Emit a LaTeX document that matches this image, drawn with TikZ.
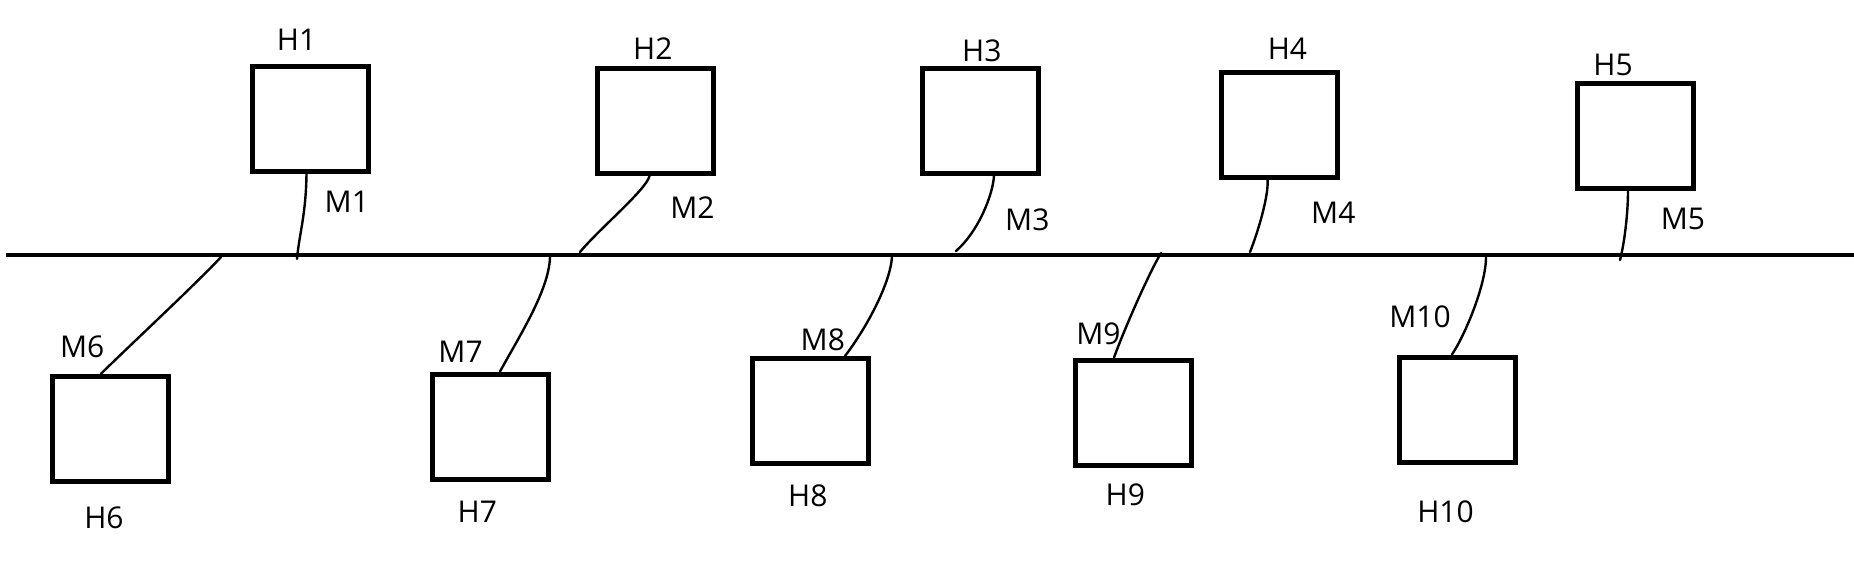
\documentclass[tikz,border=0pt]{standalone}
\usepackage{fontspec}
\setmainfont{Open Sans}
\begin{document}
\begin{tikzpicture}[x=1pt,y=-1pt,
  hostbox/.style={draw,line width=5pt,minimum width=116pt,minimum height=105pt,inner sep=0pt},
  tag/.style={inner sep=0pt,font=\fontsize{30}{36}\selectfont},
  link/.style={line width=2.4pt,line cap=round},
  busline/.style={line width=4.6pt}]
\useasboundingbox (0,0) rectangle (1854,576);
% bus
\coordinate (busL) at (6,255);
\coordinate (busR) at (1854,255);
\draw[busline] (busL) -- (busR);
% boxes
\node[hostbox] (H1) at (310.5,118.5) {};
\node[hostbox] (H2) at (655.5,121) {};
\node[hostbox] (H3) at (980,120.5) {};
\node[hostbox] (H4) at (1279.5,124.5) {};
\node[hostbox] (H5) at (1635,135.5) {};
\node[hostbox] (H6) at (110.7,429) {};
\node[hostbox] (H7) at (490,426.5) {};
\node[hostbox] (H8) at (810,411) {};
\node[hostbox] (H9) at (1133,412.5) {};
\node[hostbox] (H10) at (1457,409.5) {};
% host labels
\node[tag] (tH1) at (296.6,39.3) {H1};
\node[tag] (tH2) at (652.8,48.5) {H2};
\node[tag] (tH3) at (981.8,51) {H3};
\node[tag] (tH4) at (1287.4,49.2) {H4};
\node[tag] (tH5) at (1613,64.8) {H5};
\node[tag] (tH6) at (104,518) {H6};
\node[tag] (tH7) at (477.3,512) {H7};
\node[tag] (tH8) at (807.8,495.5) {H8};
\node[tag] (tH9) at (1125.3,494.5) {H9};
\node[tag] (tH10) at (1445.5,512) {H10};
% link labels
\node[tag] (tM1) at (346.8,202.2) {M1};
\node[tag] (tM2) at (692.4,207.7) {M2};
\node[tag] (tM3) at (1027.3,219.7) {M3};
\node[tag] (tM4) at (1333.3,212.4) {M4};
\node[tag] (tM5) at (1683,218.6) {M5};
\node[tag] (tM6) at (82.2,346.5) {M6};
\node[tag] (tM7) at (460.6,352) {M7};
\node[tag] (tM8) at (822.8,340) {M8};
\node[tag] (tM9) at (1098.4,334) {M9};
\node[tag] (tM10) at (1420,316.5) {M10};
% bus attachment points
\coordinate (b1) at (297,259);
\coordinate (b2) at (580,252);
\coordinate (b3) at (956,251);
\coordinate (b4) at (1250,252);
\coordinate (b5) at (1620,260);
\coordinate (b6) at (221,257);
\coordinate (b7) at (550,257);
\coordinate (b8) at (892,257);
\coordinate (b9) at (1161,253);
\coordinate (b10) at (1486,257);
% links
\draw[link] ([xshift=-4pt]H1.south) .. controls (306,215) and (299,235) .. (b1);
\draw[link] ([xshift=-6pt]H2.south) .. controls (646,190) and (600,228) .. (b2);
\draw[link] ([xshift=14pt]H3.south) .. controls (993,195) and (978,232) .. (b3);
\draw[link] ([xshift=-12pt]H4.south) .. controls (1269,195) and (1258,232) .. (b4);
\draw[link] ([xshift=-7pt]H5.south) .. controls (1628,215) and (1624,245) .. (b5);
\draw[link] (b6) .. controls (200,280) and (125,350) .. ([xshift=-10pt]H6.north);
\draw[link] (b7) .. controls (549,290) and (520,335) .. ([xshift=10pt]H7.north);
\draw[link] (b8) .. controls (890,285) and (865,330) .. ([xshift=35pt]H8.north);
\draw[link] (b9) .. controls (1148,275) and (1124,330) .. ([xshift=-19pt]H9.north);
\draw[link] (b10) .. controls (1486,285) and (1465,335) .. ([xshift=-5pt]H10.north);
\end{tikzpicture}
\end{document}
